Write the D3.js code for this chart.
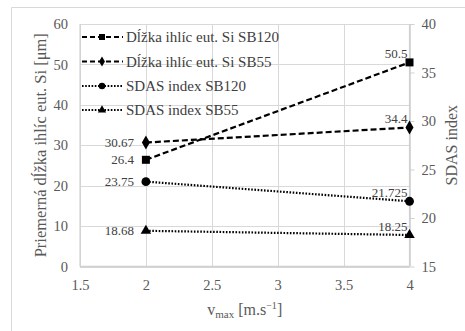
<!DOCTYPE html>
<html>
<head>
<meta charset="utf-8">
<script src="https://cdn.jsdelivr.net/npm/d3@7/dist/d3.min.js"></script>
<style>
  html, body { margin: 0; padding: 0; background: #fff; }
</style>
</head>
<body>
<svg id="chart" width="465" height="331"></svg>
<script>
// x values (v_max) and the four measured series
const xValues = [2, 4];
const lenSB120 = [26.4, 50.5];
const lenSB55 = [30.67, 34.4];
const sdasSB120 = [23.75, 21.725];
const sdasSB55 = [18.68, 18.25];

const seriesNames = [
  "Dĺžka ihlíc eut. Si SB120",
  "Dĺžka ihlíc eut. Si SB55",
  "SDAS index SB120",
  "SDAS index SB55"
];

const xTicks = [1.5, 2, 2.5, 3, 3.5, 4];
const leftTicks = [0, 10, 20, 30, 40, 50, 60];
const rightTicks = [15, 20, 25, 30, 35, 40];

const FONT = "'Liberation Serif', 'DejaVu Serif', serif";
const svg = d3.select("#chart");

const plot = { left: 80, right: 409.5, top: 24, bottom: 266.5 };

const x = d3.scaleLinear().domain([1.5, 4]).range([plot.left, plot.right]);
const yL = d3.scaleLinear().domain([0, 60]).range([plot.bottom, plot.top]);
const yR = d3.scaleLinear().domain([15, 40]).range([plot.bottom, plot.top]);

// outer frame (top and left edges visible)
svg.append("path")
  .attr("d", "M11.5,331 V7.5 H465")
  .attr("fill", "none").attr("stroke", "#d9d9d9").attr("stroke-width", 1);

// gridlines
const grid = svg.append("g").attr("stroke", "#d9d9d9").attr("stroke-width", 1);
grid.selectAll("line.h").data(leftTicks).join("line")
  .attr("x1", plot.left).attr("x2", plot.right)
  .attr("y1", d => Math.round(yL(d)) + 0.5).attr("y2", d => Math.round(yL(d)) + 0.5);
grid.selectAll("line.v").data(xTicks).join("line")
  .attr("x1", d => Math.round(x(d)) + 0.5).attr("x2", d => Math.round(x(d)) + 0.5)
  .attr("y1", plot.top).attr("y2", plot.bottom);

// axes
const axisLeft = svg.append("g")
  .attr("transform", `translate(${plot.left},0)`)
  .call(d3.axisLeft(yL).tickValues(leftTicks).tickSize(0).tickPadding(12).tickFormat(d3.format("d")));
const axisRight = svg.append("g")
  .attr("transform", `translate(${plot.right},0)`)
  .call(d3.axisRight(yR).tickValues(rightTicks).tickSize(5).tickPadding(7).tickFormat(d3.format("d")));
const axisBottom = svg.append("g")
  .attr("transform", `translate(0,${plot.bottom})`)
  .call(d3.axisBottom(x).tickValues(xTicks).tickSize(0).tickPadding(13).tickFormat(d => String(d)));

[axisLeft, axisRight, axisBottom].forEach(g => {
  g.attr("font-family", FONT).attr("font-size", 14.5);
  g.selectAll(".tick text").attr("fill", "#595959");
  g.selectAll(".tick line").attr("stroke", "#d0d0d0").attr("stroke-width", 1);
  g.select(".domain").remove();
});
axisLeft.append("line").attr("x1", 0).attr("x2", 0).attr("y1", plot.top).attr("y2", plot.bottom)
  .attr("stroke", "#d0d0d0").attr("stroke-width", 1.2);
axisBottom.append("line").attr("x1", plot.left).attr("x2", plot.right).attr("y1", 0).attr("y2", 0)
  .attr("stroke", "#d0d0d0").attr("stroke-width", 1.5);
axisRight.append("line").attr("x1", 0).attr("x2", 0).attr("y1", plot.top).attr("y2", plot.bottom)
  .attr("stroke", "#d0d0d0").attr("stroke-width", 1.2);

// axis titles
svg.append("text")
  .attr("transform", `translate(46,${(plot.top + plot.bottom) / 2}) rotate(-90)`)
  .attr("text-anchor", "middle").attr("font-family", FONT).attr("font-size", 16.5).attr("fill", "#595959")
  .text("Priemerná dĺžka ihlíc eut. Si [μm]");
svg.append("text")
  .attr("transform", `translate(457,${(plot.top + plot.bottom) / 2}) rotate(-90)`)
  .attr("text-anchor", "middle").attr("font-family", FONT).attr("font-size", 16).attr("fill", "#595959")
  .text("SDAS index");
const xt = svg.append("text")
  .attr("x", (plot.left + plot.right) / 2).attr("y", 315)
  .attr("text-anchor", "middle").attr("font-family", FONT).attr("font-size", 16).attr("fill", "#595959");
xt.append("tspan").text("v");
xt.append("tspan").attr("font-size", 11).attr("dy", 3).text("max");
xt.append("tspan").attr("dy", -3).text(" [m.s");
xt.append("tspan").attr("font-size", 10).attr("dy", -6).text("−1");
xt.append("tspan").attr("dy", 6).text("]");

// series definitions
const series = [
  { name: seriesNames[0], values: lenSB120, y: yL, dash: "6,3", symbol: d3.symbolSquare, size: 64, lsize: 36 },
  { name: seriesNames[1], values: lenSB55, y: yL, dash: "6,3", symbol: d3.symbolDiamond, size: 56, lsize: 30 },
  { name: seriesNames[2], values: sdasSB120, y: yR, dash: "1.6,1.6", symbol: d3.symbolCircle, size: 62, lsize: 34 },
  { name: seriesNames[3], values: sdasSB55, y: yR, dash: "1.6,1.6", symbol: d3.symbolTriangle, size: 48, lsize: 30 }
];

const line = (s) => d3.line().x((d, i) => x(xValues[i])).y(d => s.y(d));

const marks = svg.append("g");
series.forEach(s => {
  marks.append("path")
    .datum(s.values)
    .attr("d", line(s))
    .attr("fill", "none").attr("stroke", "#000").attr("stroke-width", 2.2)
    .attr("stroke-dasharray", s.dash);
  marks.selectAll(null).data(s.values).join("path")
    .attr("transform", (d, i) => `translate(${x(xValues[i])},${s.y(d)})`)
    .attr("d", d3.symbol(s.symbol, s.size))
    .attr("fill", "#000");
  // value labels: left of the first point, above-left of the last point
  marks.selectAll(null).data(s.values).join("text")
    .attr("x", (d, i) => x(xValues[i]) + (i === 0 ? -12 : -2))
    .attr("y", (d, i) => s.y(d) + (i === 0 ? 0 : -9))
    .attr("dy", "0.35em")
    .attr("text-anchor", "end").attr("font-family", FONT).attr("font-size", 13).attr("fill", "#404040")
    .text(d => String(d));
});

// legend
const legend = svg.append("g").attr("transform", "translate(82,0)");
const legendY = [37, 61.5, 86, 110];
series.forEach((s, i) => {
  const g = legend.append("g").attr("transform", `translate(0,${legendY[i]})`);
  g.append("line").attr("x1", 0).attr("x2", 41).attr("y1", 0).attr("y2", 0)
    .attr("stroke", "#000").attr("stroke-width", 2.2)
    .attr("stroke-dasharray", i < 2 ? "5,3" : "1.6,1.6");
  g.append("path").attr("transform", "translate(20,0)")
    .attr("d", d3.symbol(s.symbol, s.lsize)).attr("fill", "#000");
  g.append("text").attr("x", 44).attr("dy", "0.35em")
    .attr("font-family", FONT).attr("font-size", 15).attr("fill", "#404040").text(s.name);
});
</script>
</body>
</html>
